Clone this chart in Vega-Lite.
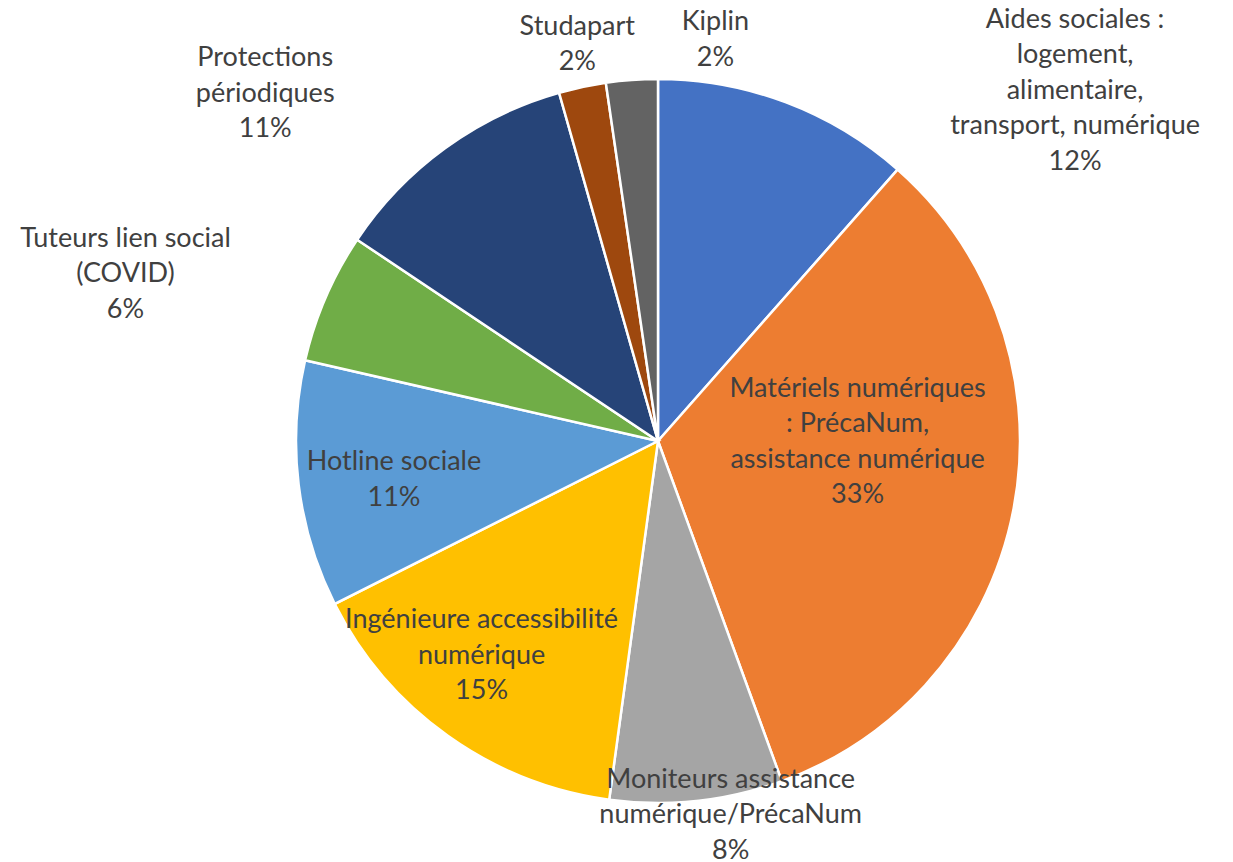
{
  "$schema": "https://vega.github.io/schema/vega-lite/v6.json",
  "width": 1150,
  "height": 842,
  "autosize": "none",
  "padding": {"left": 83, "top": 20, "right": 0, "bottom": 0},
  "background": "white",
  "view": {"stroke": null},
  "config": {
    "text": {"font": "Lato", "fontSize": 27, "color": "#404040", "lineBreak": "\n", "lineHeight": 35.5, "align": "center", "baseline": "middle"}
  },
  "data": {
    "values": [
      {"idx": 1, "cat": "Aides sociales", "share": 11.5, "label": "Aides sociales :\nlogement,\nalimentaire,\ntransport, numérique\n12%"},
      {"idx": 2, "cat": "Matériels numériques", "share": 32.9, "label": "Matériels numériques\n: PrécaNum,\nassistance numérique\n33%"},
      {"idx": 3, "cat": "Moniteurs", "share": 7.7, "label": "Moniteurs assistance\nnumérique/PrécaNum\n8%"},
      {"idx": 4, "cat": "Ingénieure", "share": 15.4, "label": "Ingénieure accessibilité\nnumérique\n15%"},
      {"idx": 5, "cat": "Hotline", "share": 11.0, "label": "Hotline sociale\n11%"},
      {"idx": 6, "cat": "Tuteurs", "share": 5.8, "label": "Tuteurs lien social\n(COVID)\n6%"},
      {"idx": 7, "cat": "Protections", "share": 11.2, "label": "Protections\npériodiques\n11%"},
      {"idx": 8, "cat": "Studapart", "share": 2.1, "label": "Studapart\n2%"},
      {"idx": 9, "cat": "Kiplin", "share": 2.3, "label": "Kiplin\n2%"}
    ]
  },
  "layer": [
    {
      "mark": {"type": "arc", "outerRadius": 362, "stroke": "white", "strokeWidth": 2.5},
      "encoding": {
        "theta": {"field": "share", "type": "quantitative", "stack": true},
        "order": {"field": "idx", "type": "quantitative"},
        "color": {
          "field": "cat", "type": "nominal", "legend": null,
          "scale": {
            "domain": ["Aides sociales", "Matériels numériques", "Moniteurs", "Ingénieure", "Hotline", "Tuteurs", "Protections", "Studapart", "Kiplin"],
            "range": ["#4472C4", "#ED7D31", "#A5A5A5", "#FFC000", "#5B9BD5", "#70AD47", "#264478", "#9E480E", "#636363"]
          }
        }
      }
    },
    {
      "mark": {"type": "text", "radius": 475, "dx": 249, "dy": 23},
      "encoding": {
        "theta": {"field": "share", "type": "quantitative", "stack": true},
        "order": {"field": "idx", "type": "quantitative"},
        "text": {"condition": {"test": "datum.idx === 1", "field": "label"}, "value": ""}
      }
    },
    {
      "mark": {"type": "text", "radius": 197, "dx": 6, "dy": -89},
      "encoding": {
        "theta": {"field": "share", "type": "quantitative", "stack": true},
        "order": {"field": "idx", "type": "quantitative"},
        "text": {"condition": {"test": "datum.idx === 2", "field": "label"}, "value": ""}
      }
    },
    {
      "mark": {"type": "text", "radius": 381, "dx": 32, "dy": -40},
      "encoding": {
        "theta": {"field": "share", "type": "quantitative", "stack": true},
        "order": {"field": "idx", "type": "quantitative"},
        "text": {"condition": {"test": "datum.idx === 3", "field": "label"}, "value": ""}
      }
    },
    {
      "mark": {"type": "text", "radius": 278, "dx": -15, "dy": -47},
      "encoding": {
        "theta": {"field": "share", "type": "quantitative", "stack": true},
        "order": {"field": "idx", "type": "quantitative"},
        "text": {"condition": {"test": "datum.idx === 4", "field": "label"}, "value": ""}
      }
    },
    {
      "mark": {"type": "text", "radius": 267, "dx": 1, "dy": -11},
      "encoding": {
        "theta": {"field": "share", "type": "quantitative", "stack": true},
        "order": {"field": "idx", "type": "quantitative"},
        "text": {"condition": {"test": "datum.idx === 5", "field": "label"}, "value": ""}
      }
    },
    {
      "mark": {"type": "text", "radius": 556, "dx": -22, "dy": 18},
      "encoding": {
        "theta": {"field": "share", "type": "quantitative", "stack": true},
        "order": {"field": "idx", "type": "quantitative"},
        "text": {"condition": {"test": "datum.idx === 6", "field": "label"}, "value": ""}
      }
    },
    {
      "mark": {"type": "text", "radius": 513, "dx": -91, "dy": 32},
      "encoding": {
        "theta": {"field": "share", "type": "quantitative", "stack": true},
        "order": {"field": "idx", "type": "quantitative"},
        "text": {"condition": {"test": "datum.idx === 7", "field": "label"}, "value": ""}
      }
    },
    {
      "mark": {"type": "text", "radius": 405, "dx": 4, "dy": -18},
      "encoding": {
        "theta": {"field": "share", "type": "quantitative", "stack": true},
        "order": {"field": "idx", "type": "quantitative"},
        "text": {"condition": {"test": "datum.idx === 8", "field": "label"}, "value": ""}
      }
    },
    {
      "mark": {"type": "text", "radius": 396, "dx": 86, "dy": -24},
      "encoding": {
        "theta": {"field": "share", "type": "quantitative", "stack": true},
        "order": {"field": "idx", "type": "quantitative"},
        "text": {"condition": {"test": "datum.idx === 9", "field": "label"}, "value": ""}
      }
    }
  ]
}
